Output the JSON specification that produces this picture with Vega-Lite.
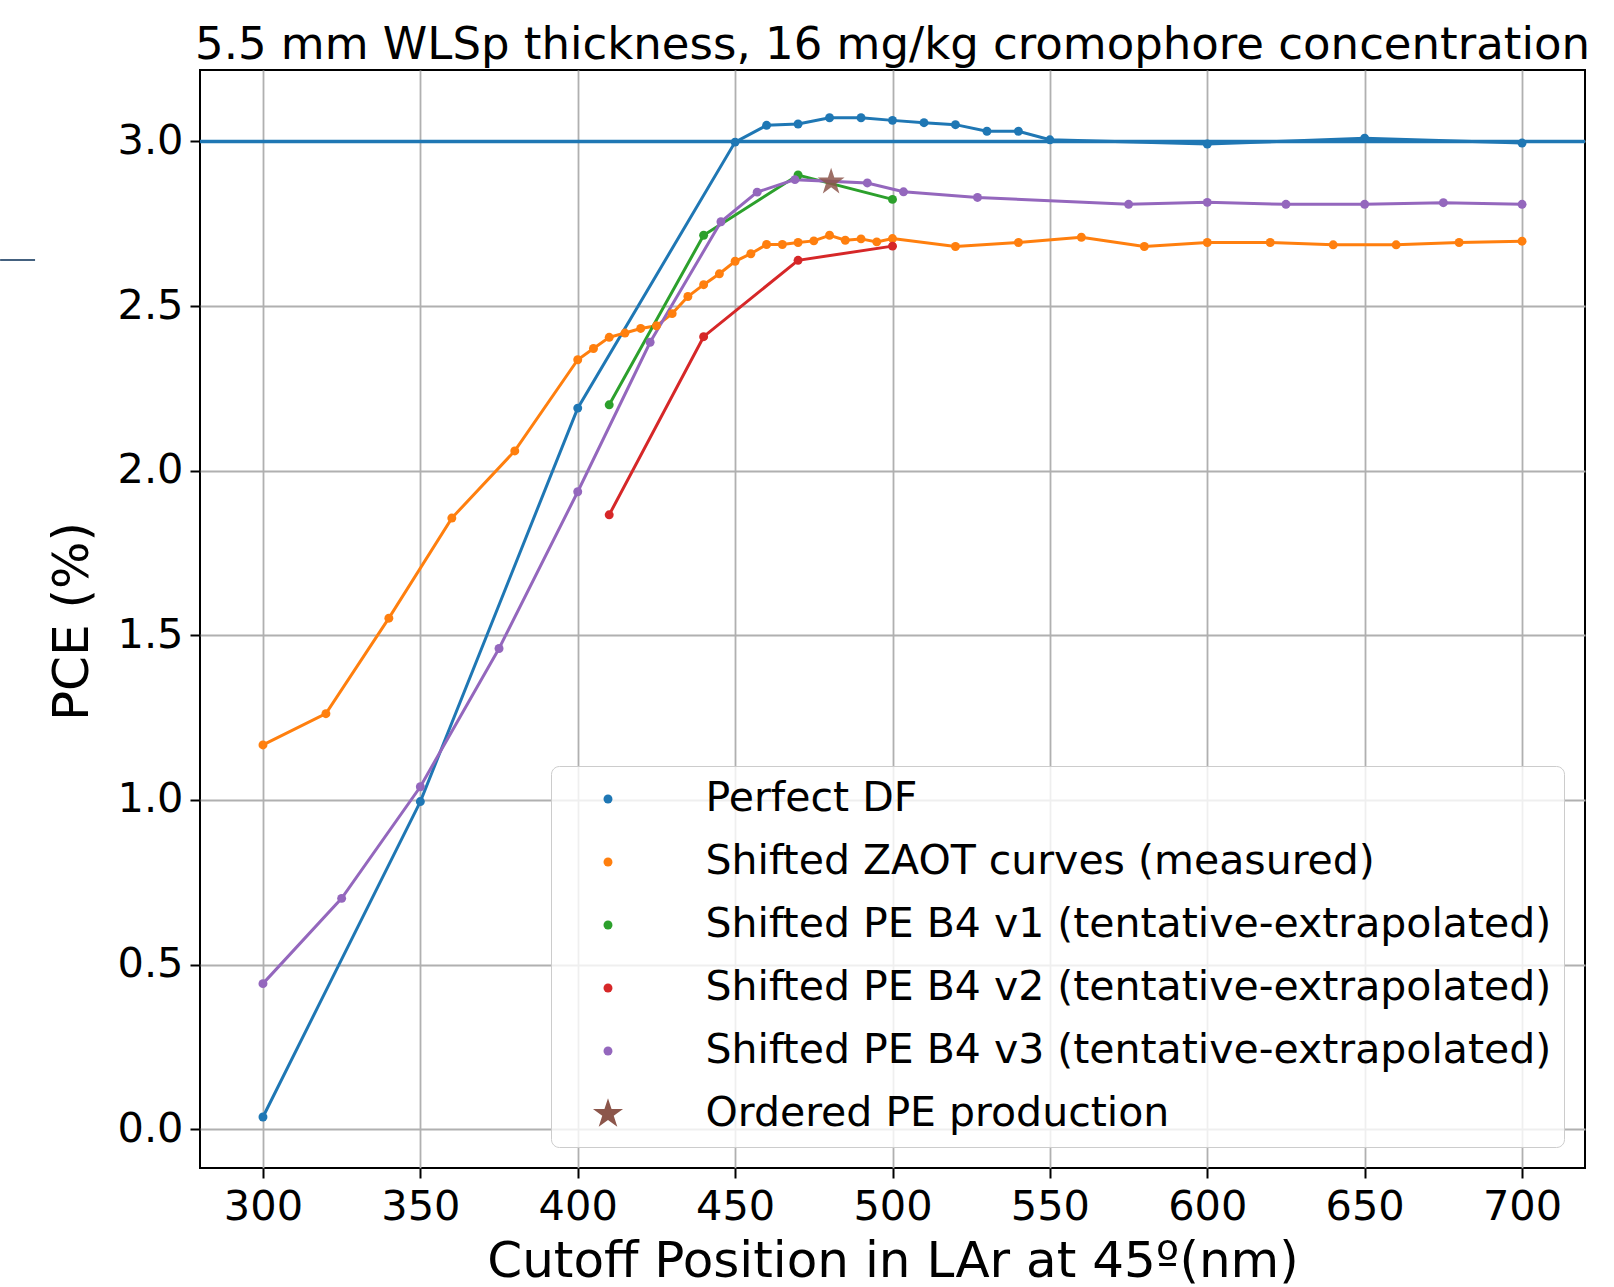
{
  "$schema": "https://vega.github.io/schema/vega-lite/v6.json",
  "autosize": {"type": "none"},
  "width": 1385,
  "height": 1098,
  "padding": {"left": 200, "top": 70, "right": 29, "bottom": 119},
  "background": "white",
  "title": {
    "text": "5.5 mm WLSp thickness, 16 mg/kg cromophore concentration",
    "font": "DejaVu Sans",
    "fontSize": 45,
    "fontWeight": "normal",
    "color": "black",
    "anchor": "middle",
    "baseline": "alphabetic",
    "offset": -34
  },
  "config": {
    "view": {"stroke": "black", "strokeWidth": 2},
    "font": "DejaVu Sans",
    "axis": {
      "domain": false,
      "grid": true,
      "gridColor": "#b0b0b0",
      "gridWidth": 1.8,
      "tickColor": "black",
      "tickWidth": 2,
      "tickSize": 10,
      "labelFont": "DejaVu Sans",
      "labelFontSize": 41.5,
      "labelColor": "black",
      "titleFont": "DejaVu Sans",
      "titleFontSize": 50,
      "titleFontWeight": "normal",
      "titleColor": "black"
    }
  },
  "datasets": {
    "pts": [
      {"nm": 300, "pce": 0.037, "series": "Perfect DF"},
      {"nm": 350, "pce": 0.995, "series": "Perfect DF"},
      {"nm": 400, "pce": 2.19, "series": "Perfect DF"},
      {"nm": 450, "pce": 2.998, "series": "Perfect DF"},
      {"nm": 460, "pce": 3.049, "series": "Perfect DF"},
      {"nm": 470, "pce": 3.053, "series": "Perfect DF"},
      {"nm": 480, "pce": 3.072, "series": "Perfect DF"},
      {"nm": 490, "pce": 3.072, "series": "Perfect DF"},
      {"nm": 500, "pce": 3.064, "series": "Perfect DF"},
      {"nm": 510, "pce": 3.057, "series": "Perfect DF"},
      {"nm": 520, "pce": 3.051, "series": "Perfect DF"},
      {"nm": 530, "pce": 3.031, "series": "Perfect DF"},
      {"nm": 540, "pce": 3.031, "series": "Perfect DF"},
      {"nm": 550, "pce": 3.005, "series": "Perfect DF"},
      {"nm": 600, "pce": 2.992, "series": "Perfect DF"},
      {"nm": 650, "pce": 3.01, "series": "Perfect DF"},
      {"nm": 700, "pce": 2.995, "series": "Perfect DF"},

      {"nm": 300, "pce": 1.167, "series": "Shifted ZAOT curves (measured)"},
      {"nm": 320, "pce": 1.262, "series": "Shifted ZAOT curves (measured)"},
      {"nm": 340, "pce": 1.552, "series": "Shifted ZAOT curves (measured)"},
      {"nm": 360, "pce": 1.856, "series": "Shifted ZAOT curves (measured)"},
      {"nm": 380, "pce": 2.06, "series": "Shifted ZAOT curves (measured)"},
      {"nm": 400, "pce": 2.337, "series": "Shifted ZAOT curves (measured)"},
      {"nm": 405, "pce": 2.371, "series": "Shifted ZAOT curves (measured)"},
      {"nm": 410, "pce": 2.405, "series": "Shifted ZAOT curves (measured)"},
      {"nm": 415, "pce": 2.418, "series": "Shifted ZAOT curves (measured)"},
      {"nm": 420, "pce": 2.432, "series": "Shifted ZAOT curves (measured)"},
      {"nm": 425, "pce": 2.44, "series": "Shifted ZAOT curves (measured)"},
      {"nm": 430, "pce": 2.477, "series": "Shifted ZAOT curves (measured)"},
      {"nm": 435, "pce": 2.529, "series": "Shifted ZAOT curves (measured)"},
      {"nm": 440, "pce": 2.565, "series": "Shifted ZAOT curves (measured)"},
      {"nm": 445, "pce": 2.598, "series": "Shifted ZAOT curves (measured)"},
      {"nm": 450, "pce": 2.636, "series": "Shifted ZAOT curves (measured)"},
      {"nm": 455, "pce": 2.659, "series": "Shifted ZAOT curves (measured)"},
      {"nm": 460, "pce": 2.687, "series": "Shifted ZAOT curves (measured)"},
      {"nm": 465, "pce": 2.687, "series": "Shifted ZAOT curves (measured)"},
      {"nm": 470, "pce": 2.693, "series": "Shifted ZAOT curves (measured)"},
      {"nm": 475, "pce": 2.698, "series": "Shifted ZAOT curves (measured)"},
      {"nm": 480, "pce": 2.715, "series": "Shifted ZAOT curves (measured)"},
      {"nm": 485, "pce": 2.7, "series": "Shifted ZAOT curves (measured)"},
      {"nm": 490, "pce": 2.704, "series": "Shifted ZAOT curves (measured)"},
      {"nm": 495, "pce": 2.695, "series": "Shifted ZAOT curves (measured)"},
      {"nm": 500, "pce": 2.705, "series": "Shifted ZAOT curves (measured)"},
      {"nm": 520, "pce": 2.681, "series": "Shifted ZAOT curves (measured)"},
      {"nm": 540, "pce": 2.693, "series": "Shifted ZAOT curves (measured)"},
      {"nm": 560, "pce": 2.709, "series": "Shifted ZAOT curves (measured)"},
      {"nm": 580, "pce": 2.681, "series": "Shifted ZAOT curves (measured)"},
      {"nm": 600, "pce": 2.693, "series": "Shifted ZAOT curves (measured)"},
      {"nm": 620, "pce": 2.693, "series": "Shifted ZAOT curves (measured)"},
      {"nm": 640, "pce": 2.686, "series": "Shifted ZAOT curves (measured)"},
      {"nm": 660, "pce": 2.686, "series": "Shifted ZAOT curves (measured)"},
      {"nm": 680, "pce": 2.693, "series": "Shifted ZAOT curves (measured)"},
      {"nm": 700, "pce": 2.697, "series": "Shifted ZAOT curves (measured)"},

      {"nm": 410, "pce": 2.2, "series": "Shifted PE B4 v1 (tentative-extrapolated)"},
      {"nm": 440, "pce": 2.715, "series": "Shifted PE B4 v1 (tentative-extrapolated)"},
      {"nm": 470, "pce": 2.898, "series": "Shifted PE B4 v1 (tentative-extrapolated)"},
      {"nm": 500, "pce": 2.824, "series": "Shifted PE B4 v1 (tentative-extrapolated)"},

      {"nm": 410, "pce": 1.866, "series": "Shifted PE B4 v2 (tentative-extrapolated)"},
      {"nm": 440, "pce": 2.407, "series": "Shifted PE B4 v2 (tentative-extrapolated)"},
      {"nm": 470, "pce": 2.639, "series": "Shifted PE B4 v2 (tentative-extrapolated)"},
      {"nm": 500, "pce": 2.682, "series": "Shifted PE B4 v2 (tentative-extrapolated)"},

      {"nm": 300, "pce": 0.442, "series": "Shifted PE B4 v3 (tentative-extrapolated)"},
      {"nm": 325, "pce": 0.701, "series": "Shifted PE B4 v3 (tentative-extrapolated)"},
      {"nm": 350, "pce": 1.04, "series": "Shifted PE B4 v3 (tentative-extrapolated)"},
      {"nm": 375, "pce": 1.46, "series": "Shifted PE B4 v3 (tentative-extrapolated)"},
      {"nm": 400, "pce": 1.936, "series": "Shifted PE B4 v3 (tentative-extrapolated)"},
      {"nm": 423, "pce": 2.39, "series": "Shifted PE B4 v3 (tentative-extrapolated)"},
      {"nm": 445.5, "pce": 2.756, "series": "Shifted PE B4 v3 (tentative-extrapolated)"},
      {"nm": 457, "pce": 2.846, "series": "Shifted PE B4 v3 (tentative-extrapolated)"},
      {"nm": 469, "pce": 2.884, "series": "Shifted PE B4 v3 (tentative-extrapolated)"},
      {"nm": 492, "pce": 2.874, "series": "Shifted PE B4 v3 (tentative-extrapolated)"},
      {"nm": 503.5, "pce": 2.847, "series": "Shifted PE B4 v3 (tentative-extrapolated)"},
      {"nm": 527, "pce": 2.83, "series": "Shifted PE B4 v3 (tentative-extrapolated)"},
      {"nm": 575, "pce": 2.809, "series": "Shifted PE B4 v3 (tentative-extrapolated)"},
      {"nm": 600, "pce": 2.815, "series": "Shifted PE B4 v3 (tentative-extrapolated)"},
      {"nm": 625, "pce": 2.809, "series": "Shifted PE B4 v3 (tentative-extrapolated)"},
      {"nm": 650, "pce": 2.809, "series": "Shifted PE B4 v3 (tentative-extrapolated)"},
      {"nm": 675, "pce": 2.814, "series": "Shifted PE B4 v3 (tentative-extrapolated)"},
      {"nm": 700, "pce": 2.809, "series": "Shifted PE B4 v3 (tentative-extrapolated)"},

      {"nm": 480.5, "pce": 2.877, "series": "Ordered PE production"}
    ],
    "artifact": [
      {"nm": 216.5, "nm2": 227.6, "pce": 2.64}
    ],
    "hline": [
      {"pce": 3.0}
    ]
  },
  "encoding": {
    "x": {
      "field": "nm", "type": "quantitative",
      "scale": {"domain": [280, 720], "nice": false, "zero": false},
      "axis": {"values": [300, 350, 400, 450, 500, 550, 600, 650, 700], "title": "Cutoff Position in LAr at 45º(nm)", "titleBaseline": "alphabetic", "titleY": 108, "labelPadding": 8}
    },
    "y": {
      "field": "pce", "type": "quantitative",
      "scale": {"domain": [-0.118, 3.217], "nice": false, "zero": false},
      "axis": {"values": [0, 0.5, 1.0, 1.5, 2.0, 2.5, 3.0], "format": ".1f", "title": "PCE (%)", "titleX": -128, "titleY": 551, "titleAngle": -90, "titleBaseline": "middle", "titleAlign": "center", "labelPadding": 7}
    }
  },
  "layer": [
    {
      "data": {"name": "artifact"},
      "mark": {"type": "rule", "color": "#44617f", "strokeWidth": 2, "clip": false},
      "encoding": {
        "x2": {"field": "nm2"}
      }
    },
    {
      "data": {"name": "hline"},
      "mark": {"type": "rule", "color": "#1f77b4", "strokeWidth": 3.5},
      "encoding": {
        "x": null
      }
    },
    {
      "data": {"name": "pts"},
      "transform": [{"filter": "datum.series === 'Perfect DF'"}],
      "mark": {"type": "line", "strokeWidth": 3, "color": "#1f77b4"},
      "encoding": {}
    },
    {
      "data": {"name": "pts"},
      "transform": [{"filter": "datum.series === 'Shifted ZAOT curves (measured)'"}],
      "mark": {"type": "line", "strokeWidth": 3, "color": "#ff7f0e"},
      "encoding": {}
    },
    {
      "data": {"name": "pts"},
      "transform": [{"filter": "datum.series === 'Shifted PE B4 v1 (tentative-extrapolated)'"}],
      "mark": {"type": "line", "strokeWidth": 3, "color": "#2ca02c"},
      "encoding": {}
    },
    {
      "data": {"name": "pts"},
      "transform": [{"filter": "datum.series === 'Shifted PE B4 v2 (tentative-extrapolated)'"}],
      "mark": {"type": "line", "strokeWidth": 3, "color": "#d62728"},
      "encoding": {}
    },
    {
      "data": {"name": "pts"},
      "transform": [{"filter": "datum.series === 'Shifted PE B4 v3 (tentative-extrapolated)'"}],
      "mark": {"type": "line", "strokeWidth": 3, "color": "#9467bd"},
      "encoding": {}
    },
    {
      "data": {"name": "pts"},
      "transform": [{"filter": "datum.series !== 'Ordered PE production'"}],
      "mark": {"type": "point", "filled": true, "opacity": 1, "size": 80},
      "encoding": {
        "color": {
          "field": "series", "type": "nominal",
          "scale": {
            "domain": ["Perfect DF", "Shifted ZAOT curves (measured)", "Shifted PE B4 v1 (tentative-extrapolated)", "Shifted PE B4 v2 (tentative-extrapolated)", "Shifted PE B4 v3 (tentative-extrapolated)", "Ordered PE production"],
            "range": ["#1f77b4", "#ff7f0e", "#2ca02c", "#d62728", "#9467bd", "#8c564b"]
          },
          "legend": {
            "title": null,
            "orient": "bottom-right",
            "offset": 21,
            "padding": 12.5,
            "rowPadding": 21,
            "labelFont": "DejaVu Sans",
            "labelFontSize": 41,
            "labelColor": "black",
            "labelLimit": 2000,
            "symbolSize": 80,
            "symbolOffset": 24,
            "labelOffset": 77,
            "strokeColor": "#cccccc",
            "fillColor": "rgba(255,255,255,0.8)",
            "cornerRadius": 8,
            "symbolStrokeWidth": 0,
            "symbolOpacity": 1,
            "encode": {"symbols": {"update": {"size": {"signal": "datum.value === 'Ordered PE production' ? 1000 : 80"}}}}
          }
        },
        "shape": {
          "field": "series", "type": "nominal",
          "scale": {
            "domain": ["Perfect DF", "Shifted ZAOT curves (measured)", "Shifted PE B4 v1 (tentative-extrapolated)", "Shifted PE B4 v2 (tentative-extrapolated)", "Shifted PE B4 v3 (tentative-extrapolated)", "Ordered PE production"],
            "range": ["circle", "circle", "circle", "circle", "circle", "M0,-1L0.2245,-0.309L0.9511,-0.309L0.3633,0.118L0.5878,0.809L0,0.382L-0.5878,0.809L-0.3633,0.118L-0.9511,-0.309L-0.2245,-0.309Z"]
          },
          "legend": {"title": null}
        }
      }
    },
    {
      "data": {"name": "pts"},
      "transform": [{"filter": "datum.series === 'Ordered PE production'"}],
      "mark": {"type": "point", "filled": true, "opacity": 0.85, "size": 800},
      "encoding": {
        "color": {"field": "series", "type": "nominal"},
        "shape": {"field": "series", "type": "nominal"}
      }
    }
  ]
}
